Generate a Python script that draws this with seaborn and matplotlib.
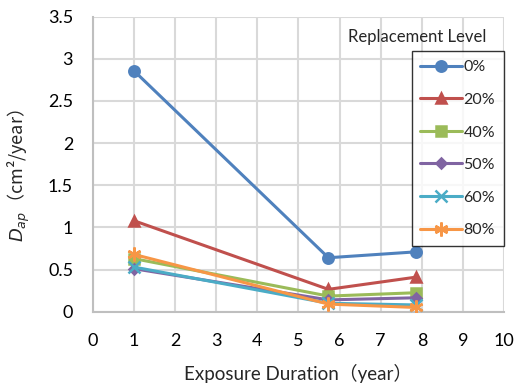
import matplotlib
matplotlib.use("Agg")
import matplotlib.pyplot as plt
import seaborn as sns
import pandas as pd

years = [1.0, 5.73, 7.86]
levels = ["0%", "20%", "40%", "50%", "60%", "80%"]
d_0 = [2.86, 0.64, 0.71]
d_20 = [1.08, 0.265, 0.41]
d_40 = [0.63, 0.185, 0.225]
d_50 = [0.51, 0.14, 0.165]
d_60 = [0.53, 0.10, 0.08]
d_80 = [0.68, 0.09, 0.05]
series = [d_0, d_20, d_40, d_50, d_60, d_80]

colors = ["#4F81BD", "#C0504D", "#9BBB59", "#8064A2", "#4BACC6", "#F79646"]
markers = ["o", "^", "s", "D", "x", (6, 2, 0)]
msizes = [7.5, 7.5, 7.5, 5.5, 8, 10]

rows = []
for lev, vals in zip(levels, series):
    for x, v in zip(years, vals):
        rows.append({"year": x, "D": v, "level": lev})
df = pd.DataFrame(rows)

sns.set_style("white")
plt.rcParams['font.family'] = ['Lato', 'Noto Sans CJK JP', 'DejaVu Sans']

fig = plt.figure(figsize=(5.23, 3.87), dpi=100)
ax = fig.add_axes([0.177, 0.1946, 0.787, 0.7624])

for i, lev in enumerate(levels):
    sub = df[df["level"] == lev]
    sns.lineplot(data=sub, x="year", y="D", ax=ax, color=colors[i], marker=markers[i],
                 markersize=msizes[i], markeredgecolor=colors[i], markeredgewidth=1.8,
                 linewidth=2.2, label=lev, zorder=3 + i)

ax.set_xlim(0, 10)
ax.set_ylim(0, 3.5)
ax.set_xticks(range(0, 11))
ax.set_yticks([0, 0.5, 1, 1.5, 2, 2.5, 3, 3.5])
ax.set_yticklabels(["0", "0.5", "1", "1.5", "2", "2.5", "3", "3.5"])
ax.grid(True, color="#D9D9D9", linewidth=1.5)
ax.set_axisbelow(True)
for s in ["top", "right"]:
    ax.spines[s].set_visible(False)
ax.spines["left"].set_color("#BFBFBF")
ax.spines["bottom"].set_color("#BFBFBF")
ax.spines["left"].set_linewidth(1.5)
ax.spines["bottom"].set_linewidth(1.5)
ax.tick_params(axis="x", labelsize=13, length=0, pad=15, colors="#000000")
ax.tick_params(axis="y", labelsize=13, length=0, pad=14, colors="#000000")

ax.set_xlabel("Exposure Duration（year）", fontsize=13.5, labelpad=0)
ax.xaxis.set_label_coords(0.5, -0.178)
ax.set_ylabel("$D_{ap}$（cm²/year）", fontsize=13, family="Noto Sans CJK JP")
ax.yaxis.set_label_coords(-0.148, 0.46)

leg = ax.legend(loc="upper left", bbox_to_anchor=(0.775, 0.882), frameon=True, fancybox=False,
                fontsize=11.5, handlelength=2.6, handletextpad=0.1, labelspacing=1.15,
                borderpad=0.55, borderaxespad=0)
leg.get_frame().set_edgecolor("black")
leg.get_frame().set_linewidth(1.0)
ax.text(0.956, 0.93, "Replacement Level", transform=ax.transAxes, ha="right", va="center",
        fontsize=12)

fig.savefig("out.png", dpi=100)
